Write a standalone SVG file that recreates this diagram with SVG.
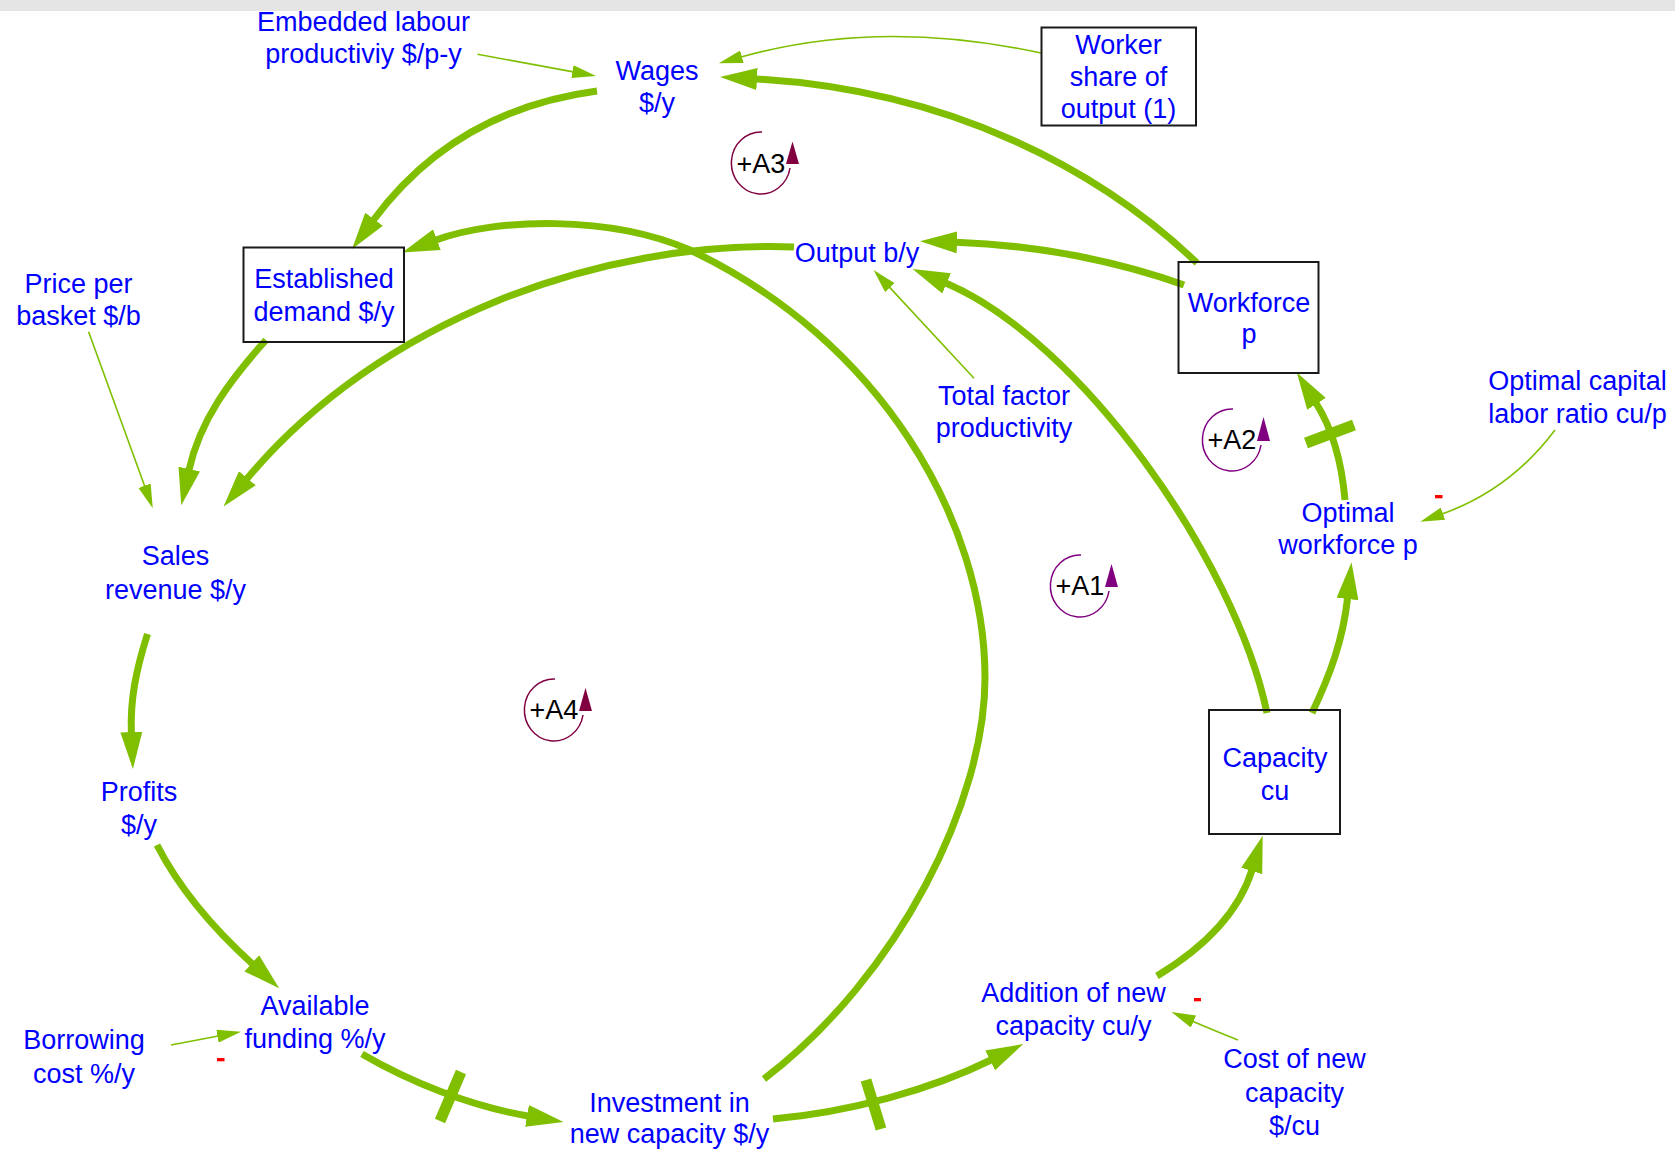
<svg xmlns="http://www.w3.org/2000/svg" width="1675" height="1152" viewBox="0 0 1675 1152">
<style>
text{font-family:"Liberation Sans",Arial,sans-serif;font-size:27px;text-anchor:middle}
.lbl{fill:#0000ff}
.loopt{fill:#000}
.box{fill:none;stroke:#1a1a1a;stroke-width:2}
.thick{fill:none;stroke:#7fbf00;stroke-width:7}
.thin{fill:none;stroke:#7fbf00;stroke-width:1.6}
.delay{stroke:#7fbf00;stroke-width:11;fill:none}
.neg{fill:#ff0000}
</style>
<defs>
<marker id="ahk" markerWidth="37" markerHeight="22" refX="1" refY="11" orient="auto" markerUnits="userSpaceOnUse"><path d="M0,0 L37,11 L0,22 z" fill="#7fbf00"/></marker>
<marker id="aht" markerWidth="24" markerHeight="13" refX="1" refY="6.5" orient="auto" markerUnits="userSpaceOnUse"><path d="M0,0 L24,6.5 L0,13 z" fill="#7fbf00"/></marker>
</defs>
<rect x="0" y="0" width="1675" height="11" fill="#e5e5e5"/>

<g id="connectors">
<path class="thin" marker-end="url(#aht)" d="M477.5,54.3 L573.4,71.9"/>
<path class="thin" marker-end="url(#aht)" d="M1041,53 Q880,18 741,57"/>
<path class="thick" marker-end="url(#ahk)" d="M1197,263 C1100,170 950,90 756,79"/>
<path class="thick" marker-end="url(#ahk)" d="M597,91 Q455,110 373.5,220"/>
<path class="thick" marker-end="url(#ahk)" d="M764,1079 C900,975 985,800 985,678 C985,520 880,340 690,250 C610,215 495,218 436,240"/>
<path class="thick" marker-end="url(#ahk)" d="M794,247 C600,240 380,320 246.7,479"/>
<path class="thick" marker-end="url(#ahk)" d="M266,340 C230,380 200,420 189,470"/>
<path class="thin" marker-end="url(#aht)" d="M88.6,331.7 L144.9,486.7"/>
<path class="thick" marker-end="url(#ahk)" d="M147.5,634 C136,670 130,700 131.4,733"/>
<path class="thick" marker-end="url(#ahk)" d="M157,845 C180,890 215,930 252.5,964"/>
<path class="thin" marker-end="url(#aht)" d="M171,1045 L218.4,1036"/>
<path class="thick" marker-end="url(#ahk)" d="M362,1054 C410,1082 470,1106 528,1116"/>
<line class="delay" x1="461" y1="1072" x2="440" y2="1121"/>
<path class="thick" marker-end="url(#ahk)" d="M773,1119 C850,1112 930,1090 991,1060"/>
<line class="delay" x1="866" y1="1080" x2="881" y2="1129"/>
<path class="thick" marker-end="url(#ahk)" d="M1157,976 C1200,950 1238,915 1252,870"/>
<path class="thin" marker-end="url(#aht)" d="M1238,1040 Q1213,1030 1192.6,1021.2"/>
<path class="thick" marker-end="url(#ahk)" d="M1267,713 C1235,560 1080,340 945.7,283"/>
<path class="thick" marker-end="url(#ahk)" d="M1312,713 C1330,675 1343,640 1347.6,598"/>
<path class="thick" marker-end="url(#ahk)" d="M1345,500 C1342,465 1333,430 1316,403"/>
<line class="delay" x1="1306" y1="443" x2="1354" y2="425"/>
<path class="thick" marker-end="url(#ahk)" d="M1184,285 C1120,262 1040,245 956,242.3"/>
<path class="thin" marker-end="url(#aht)" d="M974,378.3 L889.2,286.9"/>
<path class="thin" marker-end="url(#aht)" d="M1555,430 Q1510,490 1442,514"/>
<rect class="neg" x="1435" y="495" width="7.5" height="3.3"/>
<rect class="neg" x="217" y="1058" width="7.5" height="3.3"/>
<rect class="neg" x="1194" y="998" width="7" height="3.3"/>
</g>

<g id="embedded-labour"><text class="lbl" x="363.5" y="31">Embedded labour</text><text class="lbl" x="363.5" y="63">productiviy $/p-y</text></g>
<g id="wages"><text class="lbl" x="657" y="80">Wages</text><text class="lbl" x="657" y="112">$/y</text></g>
<g id="worker-share"><rect class="box" x="1041.5" y="27.5" width="154.5" height="98"/><text class="lbl" x="1118.5" y="54">Worker</text><text class="lbl" x="1118.5" y="86">share of</text><text class="lbl" x="1118.5" y="117.5">output (1)</text></g>
<g id="established-demand"><rect class="box" x="243.5" y="247.5" width="160.5" height="94.5"/><text class="lbl" x="324" y="288">Established</text><text class="lbl" x="324" y="321">demand $/y</text></g>
<g id="price-per-basket"><text class="lbl" x="78.5" y="292.7">Price per</text><text class="lbl" x="78.5" y="325">basket $/b</text></g>
<g id="output"><text class="lbl" x="857" y="262">Output b/y</text></g>
<g id="workforce"><rect class="box" x="1178.5" y="262" width="140" height="111"/><text class="lbl" x="1249" y="311.5">Workforce</text><text class="lbl" x="1249" y="343">p</text></g>
<g id="total-factor-productivity"><text class="lbl" x="1004" y="405">Total factor</text><text class="lbl" x="1004" y="437">productivity</text></g>
<g id="optimal-capital-labor-ratio"><text class="lbl" x="1577.5" y="390">Optimal capital</text><text class="lbl" x="1577.5" y="423">labor ratio cu/p</text></g>
<g id="optimal-workforce"><text class="lbl" x="1348" y="521.5">Optimal</text><text class="lbl" x="1348" y="553.5">workforce p</text></g>
<g id="sales-revenue"><text class="lbl" x="175.5" y="565">Sales</text><text class="lbl" x="175.5" y="599">revenue $/y</text></g>
<g id="capacity"><rect class="box" x="1209" y="710" width="131" height="124"/><text class="lbl" x="1275" y="766.5">Capacity</text><text class="lbl" x="1275" y="800">cu</text></g>
<g id="profits"><text class="lbl" x="139" y="801">Profits</text><text class="lbl" x="139" y="834">$/y</text></g>
<g id="available-funding"><text class="lbl" x="315" y="1015">Available</text><text class="lbl" x="315" y="1048">funding %/y</text></g>
<g id="borrowing-cost"><text class="lbl" x="84" y="1049">Borrowing</text><text class="lbl" x="84" y="1083">cost %/y</text></g>
<g id="investment"><text class="lbl" x="669.5" y="1111.7">Investment in</text><text class="lbl" x="669.5" y="1143">new capacity $/y</text></g>
<g id="addition-of-new-capacity"><text class="lbl" x="1073.5" y="1001.7">Addition of new</text><text class="lbl" x="1073.5" y="1035">capacity cu/y</text></g>
<g id="cost-of-new-capacity"><text class="lbl" x="1294.5" y="1068.3">Cost of new</text><text class="lbl" x="1294.5" y="1102">capacity</text><text class="lbl" x="1294.5" y="1135">$/cu</text></g>

<g id="loop-A3"><path d="M762,132 A29.5 31 0 1 0 790,168" fill="none" stroke="#800040" stroke-width="1.5"/><polygon points="786,164 799,164 792.5,141.5" fill="#800040"/><text class="loopt" x="761" y="173">+A3</text></g>
<g id="loop-A1"><path d="M1081,555 A29.5 31 0 1 0 1109,591" fill="none" stroke="#800080" stroke-width="1.5"/><polygon points="1105,587 1118,587 1111.5,564" fill="#800080"/><text class="loopt" x="1080" y="595">+A1</text></g>
<g id="loop-A2"><path d="M1233,409 A29.5 31 0 1 0 1261,445" fill="none" stroke="#800080" stroke-width="1.5"/><polygon points="1257,441 1270,441 1263.5,417" fill="#800080"/><text class="loopt" x="1232" y="449">+A2</text></g>
<g id="loop-A4"><path d="M555,679 A29.5 31 0 1 0 583,715" fill="none" stroke="#800040" stroke-width="1.5"/><polygon points="579,711 592,711 585.5,688" fill="#800040"/><text class="loopt" x="554" y="719">+A4</text></g>
</svg>
